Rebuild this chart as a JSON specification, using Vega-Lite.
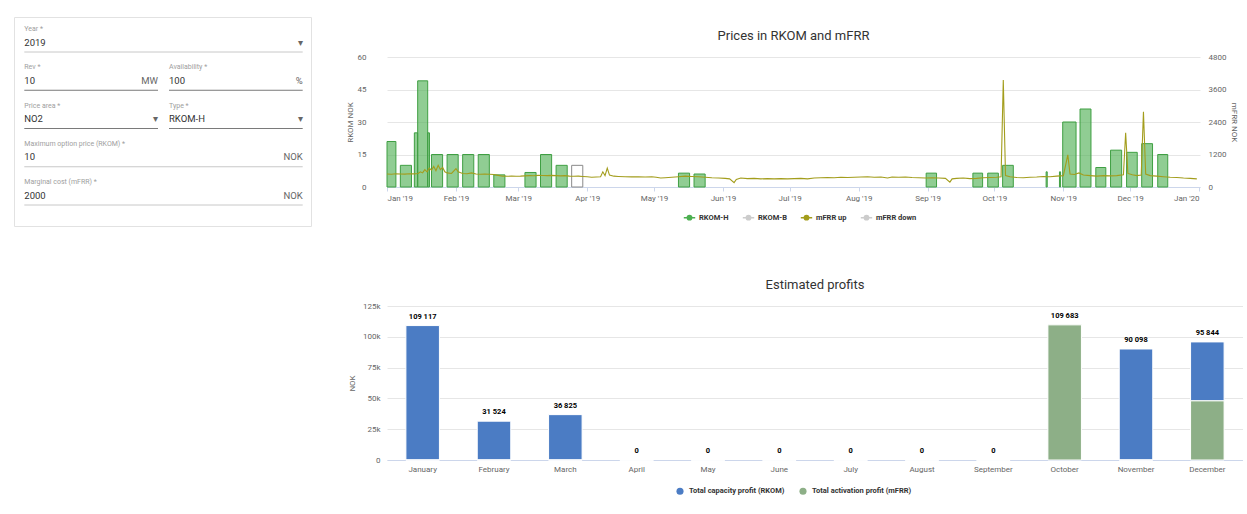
{
  "$schema": "https://vega.github.io/schema/vega-lite/v6.json",
  "background": "white",
  "padding": {"left": 13, "top": 16, "right": 0, "bottom": 0},
  "config": {
    "font": "Roboto",
    "locale": {"number": {"decimal": ".", "thousands": " ", "grouping": [3], "currency": ["", " kr"]}},
    "view": {"stroke": null},
    "title": {"fontSize": 13, "fontWeight": "normal", "color": "#333333", "anchor": "middle"},
    "axis": {"labelFontSize": 8, "labelColor": "#666666", "titleFontSize": 8, "titleFontWeight": "normal", "titleColor": "#666666", "gridColor": "#e6e6e6", "domainColor": "#ccd6eb", "tickColor": "#ccd6eb"},
    "legend": {"labelFontSize": 7.5, "labelFontWeight": "bold", "labelColor": "#333333"}
  },
  "datasets": {
    "form": [
      {"row": 0, "c0": 0, "c1": 2, "label": "Year *", "value": "2019", "unit": "▾"},
      {"row": 1, "c0": 0, "c1": 1, "label": "Rev *", "value": "10", "unit": "MW"},
      {"row": 1, "c0": 1, "c1": 2, "label": "Availability *", "value": "100", "unit": "%"},
      {"row": 2, "c0": 0, "c1": 1, "label": "Price area *", "value": "NO2", "unit": "▾"},
      {"row": 2, "c0": 1, "c1": 2, "label": "Type *", "value": "RKOM-H", "unit": "▾"},
      {"row": 3, "c0": 0, "c1": 2, "label": "Maximum option price (RKOM) *", "value": "10", "unit": "NOK"},
      {"row": 4, "c0": 0, "c1": 2, "label": "Marginal cost (mFRR) *", "value": "2000", "unit": "NOK"}
    ],
    "rkom": [
      {"series": "RKOM-H", "start": "2019-01-01T00:00:00Z", "end": "2019-01-05T00:00:00Z", "price": 21},
      {"series": "RKOM-H", "start": "2019-01-07T00:00:00Z", "end": "2019-01-12T00:00:00Z", "price": 10},
      {"series": "RKOM-H", "start": "2019-01-13T07:00:00Z", "end": "2019-01-14T19:00:00Z", "price": 25},
      {"series": "RKOM-H", "start": "2019-01-14T19:00:00Z", "end": "2019-01-19T07:00:00Z", "price": 49},
      {"series": "RKOM-H", "start": "2019-01-19T07:00:00Z", "end": "2019-01-20T02:00:00Z", "price": 25},
      {"series": "RKOM-H", "start": "2019-01-21T00:00:00Z", "end": "2019-01-26T00:00:00Z", "price": 15},
      {"series": "RKOM-H", "start": "2019-01-28T00:00:00Z", "end": "2019-02-02T00:00:00Z", "price": 15},
      {"series": "RKOM-H", "start": "2019-02-04T00:00:00Z", "end": "2019-02-09T00:00:00Z", "price": 15},
      {"series": "RKOM-H", "start": "2019-02-11T00:00:00Z", "end": "2019-02-16T00:00:00Z", "price": 15},
      {"series": "RKOM-H", "start": "2019-02-18T00:00:00Z", "end": "2019-02-23T00:00:00Z", "price": 5.6},
      {"series": "RKOM-H", "start": "2019-03-04T00:00:00Z", "end": "2019-03-09T00:00:00Z", "price": 6.7},
      {"series": "RKOM-H", "start": "2019-03-11T00:00:00Z", "end": "2019-03-16T00:00:00Z", "price": 15},
      {"series": "RKOM-H", "start": "2019-03-18T00:00:00Z", "end": "2019-03-23T00:00:00Z", "price": 10},
      {"series": "RKOM-H", "start": "2019-03-25T00:00:00Z", "end": "2019-03-30T00:00:00Z", "price": 10},
      {"series": "RKOM-H", "start": "2019-05-12T00:00:00Z", "end": "2019-05-17T00:00:00Z", "price": 6.4},
      {"series": "RKOM-H", "start": "2019-05-19T00:00:00Z", "end": "2019-05-24T00:00:00Z", "price": 6},
      {"series": "RKOM-H", "start": "2019-08-31T08:00:00Z", "end": "2019-09-05T00:00:00Z", "price": 6.4},
      {"series": "RKOM-H", "start": "2019-09-21T08:00:00Z", "end": "2019-09-25T17:00:00Z", "price": 6.4},
      {"series": "RKOM-H", "start": "2019-09-28T00:00:00Z", "end": "2019-10-02T19:00:00Z", "price": 6.4},
      {"series": "RKOM-H", "start": "2019-10-04T17:00:00Z", "end": "2019-10-09T12:00:00Z", "price": 10},
      {"series": "RKOM-H", "start": "2019-10-24T06:00:00Z", "end": "2019-10-24T18:00:00Z", "price": 7},
      {"series": "RKOM-H", "start": "2019-10-30T06:00:00Z", "end": "2019-10-30T18:00:00Z", "price": 7},
      {"series": "RKOM-H", "start": "2019-10-31T17:00:00Z", "end": "2019-11-06T17:00:00Z", "price": 30},
      {"series": "RKOM-H", "start": "2019-11-08T12:00:00Z", "end": "2019-11-13T10:00:00Z", "price": 36},
      {"series": "RKOM-H", "start": "2019-11-15T14:00:00Z", "end": "2019-11-20T02:00:00Z", "price": 9},
      {"series": "RKOM-H", "start": "2019-11-22T05:00:00Z", "end": "2019-11-27T05:00:00Z", "price": 17},
      {"series": "RKOM-H", "start": "2019-11-29T10:00:00Z", "end": "2019-12-04T05:00:00Z", "price": 16},
      {"series": "RKOM-H", "start": "2019-12-06T05:00:00Z", "end": "2019-12-11T02:00:00Z", "price": 20},
      {"series": "RKOM-H", "start": "2019-12-13T10:00:00Z", "end": "2019-12-17T22:00:00Z", "price": 15}
    ],
    "mfrr": [
      {"series": "mFRR up", "d": "2019-01-01", "v": 480}, {"series": "mFRR up", "d": "2019-01-03", "v": 470},
      {"series": "mFRR up", "d": "2019-01-05", "v": 490}, {"series": "mFRR up", "d": "2019-01-07", "v": 480},
      {"series": "mFRR up", "d": "2019-01-09", "v": 475}, {"series": "mFRR up", "d": "2019-01-11", "v": 490},
      {"series": "mFRR up", "d": "2019-01-13", "v": 485}, {"series": "mFRR up", "d": "2019-01-15", "v": 500},
      {"series": "mFRR up", "d": "2019-01-16", "v": 560}, {"series": "mFRR up", "d": "2019-01-17", "v": 520},
      {"series": "mFRR up", "d": "2019-01-18", "v": 640}, {"series": "mFRR up", "d": "2019-01-19", "v": 560},
      {"series": "mFRR up", "d": "2019-01-20", "v": 700}, {"series": "mFRR up", "d": "2019-01-21", "v": 620},
      {"series": "mFRR up", "d": "2019-01-22", "v": 760}, {"series": "mFRR up", "d": "2019-01-23", "v": 600},
      {"series": "mFRR up", "d": "2019-01-24", "v": 800}, {"series": "mFRR up", "d": "2019-01-25", "v": 640},
      {"series": "mFRR up", "d": "2019-01-26", "v": 720}, {"series": "mFRR up", "d": "2019-01-27", "v": 560},
      {"series": "mFRR up", "d": "2019-01-28", "v": 520}, {"series": "mFRR up", "d": "2019-01-30", "v": 500},
      {"series": "mFRR up", "d": "2019-02-01", "v": 680}, {"series": "mFRR up", "d": "2019-02-02", "v": 560},
      {"series": "mFRR up", "d": "2019-02-04", "v": 500}, {"series": "mFRR up", "d": "2019-02-06", "v": 490},
      {"series": "mFRR up", "d": "2019-02-08", "v": 520}, {"series": "mFRR up", "d": "2019-02-10", "v": 480},
      {"series": "mFRR up", "d": "2019-02-12", "v": 470}, {"series": "mFRR up", "d": "2019-02-14", "v": 480},
      {"series": "mFRR up", "d": "2019-02-16", "v": 470}, {"series": "mFRR up", "d": "2019-02-18", "v": 460},
      {"series": "mFRR up", "d": "2019-02-20", "v": 430}, {"series": "mFRR up", "d": "2019-02-22", "v": 400},
      {"series": "mFRR up", "d": "2019-02-24", "v": 395}, {"series": "mFRR up", "d": "2019-02-26", "v": 400},
      {"series": "mFRR up", "d": "2019-02-28", "v": 395}, {"series": "mFRR up", "d": "2019-03-02", "v": 400},
      {"series": "mFRR up", "d": "2019-03-04", "v": 410}, {"series": "mFRR up", "d": "2019-03-06", "v": 420},
      {"series": "mFRR up", "d": "2019-03-08", "v": 415}, {"series": "mFRR up", "d": "2019-03-10", "v": 430},
      {"series": "mFRR up", "d": "2019-03-12", "v": 425}, {"series": "mFRR up", "d": "2019-03-14", "v": 420},
      {"series": "mFRR up", "d": "2019-03-16", "v": 430}, {"series": "mFRR up", "d": "2019-03-18", "v": 420},
      {"series": "mFRR up", "d": "2019-03-20", "v": 410}, {"series": "mFRR up", "d": "2019-03-22", "v": 420},
      {"series": "mFRR up", "d": "2019-03-24", "v": 400}, {"series": "mFRR up", "d": "2019-03-26", "v": 395},
      {"series": "mFRR up", "d": "2019-03-28", "v": 400}, {"series": "mFRR up", "d": "2019-03-30", "v": 390},
      {"series": "mFRR up", "d": "2019-04-01", "v": 380}, {"series": "mFRR up", "d": "2019-04-03", "v": 360},
      {"series": "mFRR up", "d": "2019-04-05", "v": 370}, {"series": "mFRR up", "d": "2019-04-07", "v": 380},
      {"series": "mFRR up", "d": "2019-04-08", "v": 560}, {"series": "mFRR up", "d": "2019-04-09", "v": 420},
      {"series": "mFRR up", "d": "2019-04-10", "v": 700}, {"series": "mFRR up", "d": "2019-04-11", "v": 440},
      {"series": "mFRR up", "d": "2019-04-13", "v": 400}, {"series": "mFRR up", "d": "2019-04-15", "v": 390},
      {"series": "mFRR up", "d": "2019-04-18", "v": 380}, {"series": "mFRR up", "d": "2019-04-21", "v": 375},
      {"series": "mFRR up", "d": "2019-04-24", "v": 380}, {"series": "mFRR up", "d": "2019-04-27", "v": 370},
      {"series": "mFRR up", "d": "2019-04-30", "v": 380}, {"series": "mFRR up", "d": "2019-05-02", "v": 360},
      {"series": "mFRR up", "d": "2019-05-04", "v": 330}, {"series": "mFRR up", "d": "2019-05-06", "v": 340},
      {"series": "mFRR up", "d": "2019-05-09", "v": 360}, {"series": "mFRR up", "d": "2019-05-12", "v": 380},
      {"series": "mFRR up", "d": "2019-05-15", "v": 400}, {"series": "mFRR up", "d": "2019-05-18", "v": 390},
      {"series": "mFRR up", "d": "2019-05-21", "v": 380}, {"series": "mFRR up", "d": "2019-05-24", "v": 360},
      {"series": "mFRR up", "d": "2019-05-27", "v": 340}, {"series": "mFRR up", "d": "2019-05-30", "v": 330},
      {"series": "mFRR up", "d": "2019-06-02", "v": 320}, {"series": "mFRR up", "d": "2019-06-04", "v": 300},
      {"series": "mFRR up", "d": "2019-06-06", "v": 160}, {"series": "mFRR up", "d": "2019-06-07", "v": 280},
      {"series": "mFRR up", "d": "2019-06-09", "v": 330}, {"series": "mFRR up", "d": "2019-06-12", "v": 310},
      {"series": "mFRR up", "d": "2019-06-15", "v": 320}, {"series": "mFRR up", "d": "2019-06-18", "v": 300},
      {"series": "mFRR up", "d": "2019-06-21", "v": 310}, {"series": "mFRR up", "d": "2019-06-24", "v": 300},
      {"series": "mFRR up", "d": "2019-06-27", "v": 310}, {"series": "mFRR up", "d": "2019-06-30", "v": 300},
      {"series": "mFRR up", "d": "2019-07-03", "v": 310}, {"series": "mFRR up", "d": "2019-07-06", "v": 320},
      {"series": "mFRR up", "d": "2019-07-09", "v": 300}, {"series": "mFRR up", "d": "2019-07-12", "v": 330},
      {"series": "mFRR up", "d": "2019-07-15", "v": 340}, {"series": "mFRR up", "d": "2019-07-18", "v": 350},
      {"series": "mFRR up", "d": "2019-07-21", "v": 340}, {"series": "mFRR up", "d": "2019-07-24", "v": 360},
      {"series": "mFRR up", "d": "2019-07-27", "v": 350}, {"series": "mFRR up", "d": "2019-07-30", "v": 360},
      {"series": "mFRR up", "d": "2019-08-02", "v": 370}, {"series": "mFRR up", "d": "2019-08-05", "v": 380},
      {"series": "mFRR up", "d": "2019-08-08", "v": 360}, {"series": "mFRR up", "d": "2019-08-11", "v": 370},
      {"series": "mFRR up", "d": "2019-08-14", "v": 330}, {"series": "mFRR up", "d": "2019-08-16", "v": 370},
      {"series": "mFRR up", "d": "2019-08-19", "v": 360}, {"series": "mFRR up", "d": "2019-08-22", "v": 370},
      {"series": "mFRR up", "d": "2019-08-25", "v": 350}, {"series": "mFRR up", "d": "2019-08-28", "v": 340},
      {"series": "mFRR up", "d": "2019-08-31", "v": 330}, {"series": "mFRR up", "d": "2019-09-03", "v": 340},
      {"series": "mFRR up", "d": "2019-09-06", "v": 330}, {"series": "mFRR up", "d": "2019-09-09", "v": 320},
      {"series": "mFRR up", "d": "2019-09-11", "v": 180}, {"series": "mFRR up", "d": "2019-09-12", "v": 300},
      {"series": "mFRR up", "d": "2019-09-14", "v": 320}, {"series": "mFRR up", "d": "2019-09-17", "v": 330},
      {"series": "mFRR up", "d": "2019-09-20", "v": 310}, {"series": "mFRR up", "d": "2019-09-23", "v": 320},
      {"series": "mFRR up", "d": "2019-09-26", "v": 340}, {"series": "mFRR up", "d": "2019-09-29", "v": 350},
      {"series": "mFRR up", "d": "2019-10-02", "v": 360}, {"series": "mFRR up", "d": "2019-10-04", "v": 380},
      {"series": "mFRR up", "d": "2019-10-05", "v": 3950}, {"series": "mFRR up", "d": "2019-10-06", "v": 420},
      {"series": "mFRR up", "d": "2019-10-08", "v": 380}, {"series": "mFRR up", "d": "2019-10-11", "v": 350},
      {"series": "mFRR up", "d": "2019-10-14", "v": 340}, {"series": "mFRR up", "d": "2019-10-17", "v": 360},
      {"series": "mFRR up", "d": "2019-10-20", "v": 370}, {"series": "mFRR up", "d": "2019-10-23", "v": 390},
      {"series": "mFRR up", "d": "2019-10-26", "v": 380}, {"series": "mFRR up", "d": "2019-10-29", "v": 400},
      {"series": "mFRR up", "d": "2019-11-01", "v": 420}, {"series": "mFRR up", "d": "2019-11-03", "v": 1190},
      {"series": "mFRR up", "d": "2019-11-04", "v": 480}, {"series": "mFRR up", "d": "2019-11-06", "v": 460},
      {"series": "mFRR up", "d": "2019-11-08", "v": 520}, {"series": "mFRR up", "d": "2019-11-10", "v": 440},
      {"series": "mFRR up", "d": "2019-11-13", "v": 420}, {"series": "mFRR up", "d": "2019-11-16", "v": 400},
      {"series": "mFRR up", "d": "2019-11-19", "v": 420}, {"series": "mFRR up", "d": "2019-11-22", "v": 410},
      {"series": "mFRR up", "d": "2019-11-25", "v": 420}, {"series": "mFRR up", "d": "2019-11-28", "v": 450},
      {"series": "mFRR up", "d": "2019-11-29", "v": 2000}, {"series": "mFRR up", "d": "2019-11-30", "v": 500},
      {"series": "mFRR up", "d": "2019-12-02", "v": 450}, {"series": "mFRR up", "d": "2019-12-04", "v": 420},
      {"series": "mFRR up", "d": "2019-12-06", "v": 440}, {"series": "mFRR up", "d": "2019-12-07", "v": 2780},
      {"series": "mFRR up", "d": "2019-12-08", "v": 480}, {"series": "mFRR up", "d": "2019-12-10", "v": 420},
      {"series": "mFRR up", "d": "2019-12-13", "v": 400}, {"series": "mFRR up", "d": "2019-12-16", "v": 380},
      {"series": "mFRR up", "d": "2019-12-19", "v": 360}, {"series": "mFRR up", "d": "2019-12-22", "v": 350},
      {"series": "mFRR up", "d": "2019-12-25", "v": 330}, {"series": "mFRR up", "d": "2019-12-28", "v": 320},
      {"series": "mFRR up", "d": "2019-12-31", "v": 300}
    ],
    "profits": [
      {"month": "January", "type": "Total capacity profit (RKOM)", "value": 109117},
      {"month": "January", "type": "Total activation profit (mFRR)", "value": 0},
      {"month": "February", "type": "Total capacity profit (RKOM)", "value": 31524},
      {"month": "February", "type": "Total activation profit (mFRR)", "value": 0},
      {"month": "March", "type": "Total capacity profit (RKOM)", "value": 36825},
      {"month": "March", "type": "Total activation profit (mFRR)", "value": 0},
      {"month": "April", "type": "Total capacity profit (RKOM)", "value": 0},
      {"month": "April", "type": "Total activation profit (mFRR)", "value": 0},
      {"month": "May", "type": "Total capacity profit (RKOM)", "value": 0},
      {"month": "May", "type": "Total activation profit (mFRR)", "value": 0},
      {"month": "June", "type": "Total capacity profit (RKOM)", "value": 0},
      {"month": "June", "type": "Total activation profit (mFRR)", "value": 0},
      {"month": "July", "type": "Total capacity profit (RKOM)", "value": 0},
      {"month": "July", "type": "Total activation profit (mFRR)", "value": 0},
      {"month": "August", "type": "Total capacity profit (RKOM)", "value": 0},
      {"month": "August", "type": "Total activation profit (mFRR)", "value": 0},
      {"month": "September", "type": "Total capacity profit (RKOM)", "value": 0},
      {"month": "September", "type": "Total activation profit (mFRR)", "value": 0},
      {"month": "October", "type": "Total capacity profit (RKOM)", "value": 0},
      {"month": "October", "type": "Total activation profit (mFRR)", "value": 109683},
      {"month": "November", "type": "Total capacity profit (RKOM)", "value": 90098},
      {"month": "November", "type": "Total activation profit (mFRR)", "value": 0},
      {"month": "December", "type": "Total capacity profit (RKOM)", "value": 47844},
      {"month": "December", "type": "Total activation profit (mFRR)", "value": 48000}
    ]
  },
  "resolve": {"scale": {"x": "independent", "y": "independent", "color": "independent"}, "legend": {"color": "independent"}},
  "spacing": 34,
  "hconcat": [
    {
      "width": 297,
      "height": 209,
      "view": {"stroke": "#e2e2e2", "fill": "white"},
      "data": {"name": "form"},
      "encoding": {
        "y": {"field": "row", "type": "ordinal", "scale": {"type": "point", "range": [12, 165], "padding": 0}, "axis": null}
      },
      "layer": [
        {
          "mark": {"type": "text", "align": "left", "baseline": "middle", "xOffset": 5.5, "fontSize": 7, "color": "#9e9e9e"},
          "encoding": {
            "x": {"field": "c0", "type": "quantitative", "scale": {"domain": [0, 2], "range": [4.8, 294.2]}, "axis": null},
            "text": {"field": "label"}
          }
        },
        {
          "mark": {"type": "text", "align": "left", "baseline": "middle", "xOffset": 5.5, "dy": 13.5, "fontSize": 9.5, "color": "#333333"},
          "encoding": {
            "x": {"field": "c0", "type": "quantitative"},
            "text": {"field": "value"}
          }
        },
        {
          "mark": {"type": "text", "align": "right", "baseline": "middle", "xOffset": -5.5, "dy": 13.5, "fontSize": 9.5, "color": "#666666"},
          "encoding": {
            "x": {"field": "c1", "type": "quantitative"},
            "text": {"field": "unit"}
          }
        },
        {
          "mark": {"type": "rule", "xOffset": 5.5, "x2Offset": -5.5, "yOffset": 23, "strokeWidth": 1},
          "encoding": {
            "x": {"field": "c0", "type": "quantitative"},
            "x2": {"field": "c1"},
            "stroke": {"condition": {"test": "datum.row == 1 || datum.row == 2", "value": "#7a7a7a"}, "value": "#c8c8c8"}
          }
        }
      ]
    },
    {
      "columns": 1,
      "spacing": 56,
      "resolve": {"scale": {"x": "independent", "y": "independent", "color": "independent"}, "legend": {"color": "independent"}},
      "concat": [
        {
          "columns": 1,
          "spacing": 12,
          "resolve": {"scale": {"x": "independent", "y": "independent", "color": "independent"}, "legend": {"color": "independent"}},
          "concat": [
            {
              "width": 10,
              "height": 1,
              "data": {"values": []},
              "mark": {"type": "point", "opacity": 0},
              "encoding": {}
            },
            {
              "width": 813,
              "height": 130,
              "title": {"text": "Prices in RKOM and mFRR", "offset": 10},
              "layer": [
                {
                  "data": {"name": "rkom"},
                  "mark": {"type": "rect", "strokeWidth": 1},
                  "encoding": {
                    "x": {
                      "field": "start", "type": "temporal",
                      "scale": {"type": "utc", "domain": [{"year": 2019, "month": 1, "date": 1, "hours": 0, "utc": true}, {"year": 2020, "month": 1, "date": 1, "hours": 10, "utc": true}]},
                      "axis": {"format": "%b '%y", "tickCount": {"interval": "month", "step": 1}, "grid": false, "title": null, "tickSize": 4, "labelPadding": 3, "labelOverlap": false}
                    },
                    "x2": {"field": "end"},
                    "y": {
                      "field": "price", "type": "quantitative",
                      "scale": {"domain": [0, 60]},
                      "axis": {"values": [0, 15, 30, 45, 60], "format": "d", "title": "RKOM NOK", "grid": true, "ticks": false, "domain": false, "labelPadding": 21, "titlePadding": 3}
                    },
                    "y2": {"datum": 0},
                    "color": {
                      "field": "series", "type": "nominal",
                      "scale": {"domain": ["RKOM-H", "RKOM-B", "mFRR up", "mFRR down"], "range": ["#4caf50", "#cccccc", "#a39d1c", "#cccccc"]},
                      "legend": {
                        "orient": "none", "legendX": 296, "legendY": 154, "direction": "horizontal", "title": null,
                        "symbolType": "M-1,0L1,0M-0.375,0A0.375,0.375,0,1,0,0.375,0A0.375,0.375,0,1,0,-0.375,0Z",
                        "symbolSize": 130, "symbolStrokeWidth": 1.5, "columnPadding": 10, "labelOffset": 3,
                        "encode": {
                          "symbols": {"update": {
                            "fill": {"signal": "datum.value === 'RKOM-H' ? '#3a9a3a' : datum.value === 'mFRR up' ? '#9c961a' : '#cccccc'"},
                            "stroke": {"signal": "datum.value === 'RKOM-H' ? '#3a9a3a' : datum.value === 'mFRR up' ? '#9c961a' : '#cccccc'"},
                            "opacity": {"value": 1}, "fillOpacity": {"value": 1}, "strokeOpacity": {"value": 1}
                          }},
                          "labels": {"update": {
                            "fill": {"signal": "datum.value === 'RKOM-B' || datum.value === 'mFRR down' ? '#c4c4c4' : '#333333'"},
                            "fontWeight": {"signal": "datum.value === 'RKOM-B' || datum.value === 'mFRR down' ? 'normal' : 'bold'"}
                          }}
                        }
                      }
                    },
                    "fillOpacity": {"condition": {"test": "utcmonth(datum.start) === 2 && utcdate(datum.start) === 25", "value": 0}, "value": 0.62},
                    "stroke": {"condition": {"test": "utcmonth(datum.start) === 2 && utcdate(datum.start) === 25", "value": "#8a8a8a"}, "value": "#3f9f43"}
                  }
                },
                {
                  "data": {"name": "mfrr"},
                  "mark": {"type": "line", "strokeWidth": 1.1},
                  "encoding": {
                    "x": {"field": "d", "type": "temporal"},
                    "y": {
                      "field": "v", "type": "quantitative",
                      "scale": {"domain": [0, 4800]},
                      "axis": {"orient": "right", "values": [0, 1200, 2400, 3600, 4800], "format": "d", "title": "mFRR NOK", "grid": false, "ticks": false, "domain": false, "labelPadding": 8, "titlePadding": 4}
                    },
                    "color": {"field": "series", "type": "nominal"}
                  }
                }
              ],
              "resolve": {"scale": {"y": "independent"}}
            }
          ]
        },
        {
          "width": 856,
          "height": 154,
          "title": {"text": "Estimated profits", "offset": 10},
          "data": {"name": "profits"},
          "encoding": {
            "x": {
              "field": "month", "type": "ordinal",
              "sort": ["January", "February", "March", "April", "May", "June", "July", "August", "September", "October", "November", "December"],
              "scale": {"paddingInner": 0.53, "paddingOuter": 0.265},
              "axis": {"labelAngle": 0, "ticks": false, "title": null, "labelPadding": 5}
            },
            "y": {
              "field": "value", "type": "quantitative", "stack": "zero",
              "scale": {"domain": [0, 125000]},
              "axis": {"values": [0, 25000, 50000, 75000, 100000, 125000], "labelExpr": "datum.value === 0 ? '0' : (datum.value / 1000) + 'k'", "title": "NOK", "grid": true, "ticks": false, "domain": false, "labelPadding": 7, "titlePadding": 6}
            }
          },
          "layer": [
            {
              "mark": {"type": "bar", "stroke": "white", "strokeWidth": 1},
              "encoding": {
                "color": {
                  "field": "type", "type": "nominal",
                  "scale": {"domain": ["Total capacity profit (RKOM)", "Total activation profit (mFRR)"], "range": ["#4b7cc4", "#8daf87"]},
                  "legend": {"orient": "none", "legendX": 289, "legendY": 181, "direction": "horizontal", "title": null, "symbolType": "circle", "symbolSize": 50, "columnPadding": 14, "labelOffset": 5, "symbolStrokeWidth": 0}
                },
                "order": {"field": "type", "sort": "ascending"}
              }
            },
            {
              "transform": [{"aggregate": [{"op": "sum", "field": "value", "as": "value"}], "groupby": ["month"]}],
              "mark": {"type": "text", "baseline": "bottom", "dy": -5, "fontSize": 7.5, "fontWeight": "bold", "color": "#000000"},
              "encoding": {
                "text": {"field": "value", "type": "quantitative", "format": ",d"}
              }
            }
          ]
        }
      ]
    }
  ]
}
